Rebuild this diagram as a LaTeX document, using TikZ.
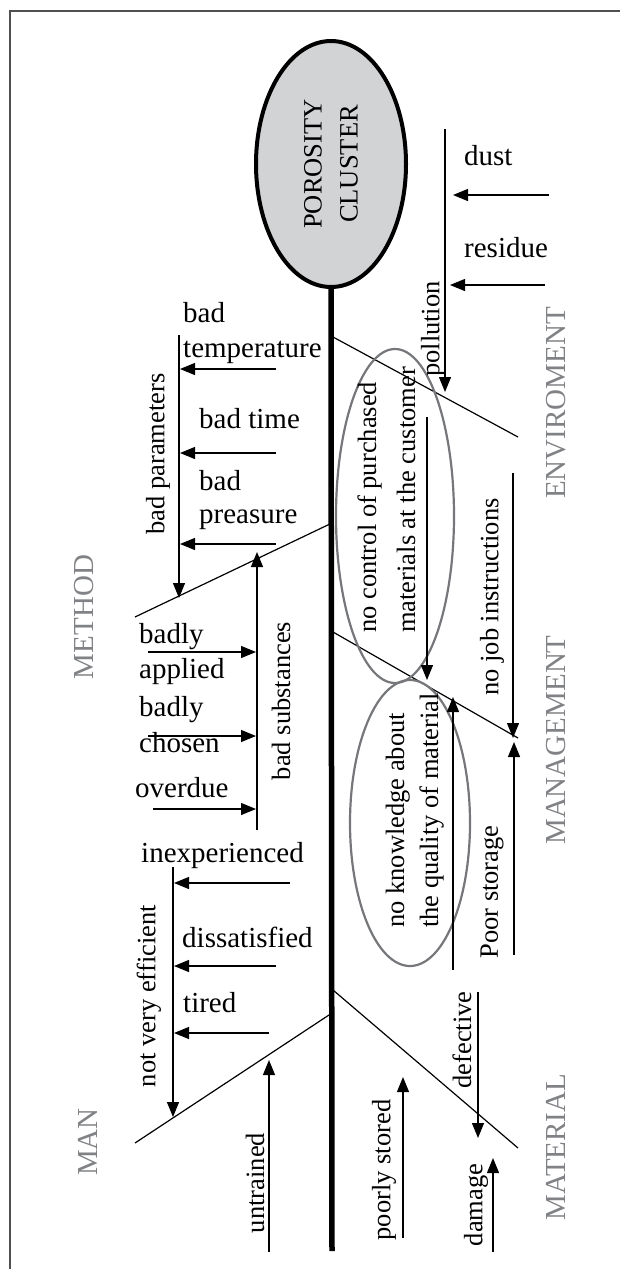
\documentclass[tikz,border=0pt]{standalone}
\usepackage{fontspec}
\setmainfont{Liberation Serif}
\usetikzlibrary{arrows.meta,shapes.geometric}
\definecolor{catgray}{RGB}{128,130,133}
\definecolor{ellgray}{RGB}{118,119,122}
\definecolor{fillgray}{RGB}{209,211,212}
\definecolor{framegray}{RGB}{80,80,80}
\begin{document}
\begin{tikzpicture}[x=1pt,y=-1pt,
  hlbl/.style={inner sep=0pt, font=\fontsize{29}{33}\selectfont, anchor=base west},
  rlbl/.style={inner sep=0pt, font=\fontsize{26.5}{31}\selectfont, rotate=90},
  cat/.style={inner sep=0pt, font=\fontsize{29}{33}\selectfont, rotate=90, text=catgray},
  bone/.style={line width=1.2pt},
  arr/.style={line width=1.2pt, -{Triangle[length=15pt,width=12pt]}},
  grayell/.style={ellipse, draw=ellgray, line width=2.2pt, rotate=90, inner sep=0pt}
]
\useasboundingbox (0,0) rectangle (619,1269);
% frame
\coordinate (fa) at (10,1280);
\coordinate (fb) at (10,11);
\coordinate (fc) at (630,11);
\draw[framegray, line width=1.5pt] (fa) -- (fb) -- (fc);

% head
\node[ellipse, draw, line width=4pt, fill=fillgray, rotate=90, inner sep=0pt,
      minimum width=246pt, minimum height=150pt, align=center,
      font=\fontsize{26.5}{36}\selectfont] (poro) at (331,164) {POROSITY\\CLUSTER};
\coordinate (spineend) at (332,1251);
\draw[line width=5.5pt] (poro.west) -- (spineend);

% bones
\coordinate (envA) at (333,337);  \coordinate (envB) at (518,437);
\coordinate (metA) at (332,523);  \coordinate (metB) at (135,617);
\coordinate (mgtA) at (333,632);  \coordinate (mgtB) at (518,738);
\coordinate (manA) at (332,1013); \coordinate (manB) at (135,1143);
\coordinate (matA) at (333,990);  \coordinate (matB) at (518,1148);
\draw[bone] (envA) -- (envB);
\draw[bone] (metA) -- (metB);
\draw[bone] (mgtA) -- (mgtB);
\draw[bone] (manA) -- (manB);
\draw[bone] (matA) -- (matB);

% category labels
\node[cat] (lmethod) at (84,617) {METHOD};
\node[cat] (lenv) at (556,403) {ENVIROMENT};
\node[cat] (lmgt) at (556,740) {MANAGEMENT};
\node[cat] (lman) at (88,1142) {MAN};
\node[cat] (lmat) at (556,1147) {MATERIAL};

% gray ellipses
\node[grayell, minimum width=334pt, minimum height=118pt] (e1) at (395,516) {};
\node[grayell, minimum width=286pt, minimum height=120pt] (e2) at (410,823) {};
\node[rlbl, anchor=base west] (t1a) at (376,633) {no control of purchased};
\node[rlbl, anchor=base west] (t1b) at (415,633) {materials at the customer};
\node[rlbl, anchor=base west] (t2a) at (404,928) {no knowledge about};
\node[rlbl, anchor=base west] (t2b) at (438,928) {the quality of material};

% ENVIROMENT
\node[hlbl] (dust) at (464,165) {dust};
\node[hlbl] (residue) at (464,257) {residue};
\node[rlbl] (pollution) at (433,329) {pollution};
\coordinate (polA) at (445,129); \coordinate (polB) at (445,392);
\coordinate (dusA) at (549,195); \coordinate (dusB) at (453,195);
\coordinate (resA) at (545,285); \coordinate (resB) at (450,285);
\draw[arr] (polA) -- (polB);
\draw[arr] (dusA) -- (dusB);
\draw[arr] (resA) -- (resB);

% METHOD
\node[hlbl] (bad1) at (183,322) {bad};
\node[hlbl] (temp) at (183,357) {temperature};
\node[hlbl] (badtime) at (199,428) {bad time};
\node[hlbl] (bad2) at (199,490) {bad};
\node[hlbl] (preas) at (199,523) {preasure};
\node[rlbl] (badpar) at (158,454) {bad parameters};
\coordinate (bpA) at (179,335); \coordinate (bpB) at (179,598);
\coordinate (tmA) at (276,369); \coordinate (tmB) at (180,369);
\coordinate (btA) at (276,453); \coordinate (btB) at (180,453);
\coordinate (prA) at (276,544); \coordinate (prB) at (180,544);
\draw[arr] (bpA) -- (bpB);
\draw[arr] (tmA) -- (tmB);
\draw[arr] (btA) -- (btB);
\draw[arr] (prA) -- (prB);

\node[hlbl] (badly1) at (139,643) {badly};
\node[hlbl] (applied) at (139,678) {applied};
\node[hlbl] (badly2) at (139,716) {badly};
\node[hlbl] (chosen) at (139,752) {chosen};
\node[hlbl] (overdue) at (135,797) {overdue};
\node[rlbl] (badsub) at (281,701) {bad substances};
\coordinate (bsA) at (257,830); \coordinate (bsB) at (257,552);
\coordinate (baA) at (148,652); \coordinate (baB) at (256,652);
\coordinate (bcA) at (148,736); \coordinate (bcB) at (256,736);
\coordinate (odA) at (153,809); \coordinate (odB) at (256,809);
\draw[arr] (bsA) -- (bsB);
\draw[arr] (baA) -- (baB);
\draw[arr] (bcA) -- (bcB);
\draw[arr] (odA) -- (odB);

% MAN
\node[hlbl] (inexp) at (141,862) {inexperienced};
\node[hlbl] (dissat) at (182,947) {dissatisfied};
\node[hlbl] (tired) at (183,1012) {tired};
\node[rlbl] (notvery) at (149,996) {not very efficient};
\node[rlbl] (untrained) at (255,1183) {untrained};
\coordinate (nvA) at (173,867); \coordinate (nvB) at (173,1117);
\coordinate (inA) at (290,883); \coordinate (inB) at (174,883);
\coordinate (dsA) at (276,966); \coordinate (dsB) at (174,966);
\coordinate (tiA) at (269,1033); \coordinate (tiB) at (174,1033);
\coordinate (unA) at (269,1252); \coordinate (unB) at (269,1060);
\draw[arr] (nvA) -- (nvB);
\draw[arr] (inA) -- (inB);
\draw[arr] (dsA) -- (dsB);
\draw[arr] (tiA) -- (tiB);
\draw[arr] (unA) -- (unB);

% MANAGEMENT
\node[rlbl] (nojob) at (492,597) {no job instructions};
\node[rlbl] (poor) at (492,892) {Poor storage};
\coordinate (m1A) at (427,417); \coordinate (m1B) at (427,680);
\coordinate (m2A) at (453,970); \coordinate (m2B) at (453,697);
\coordinate (njA) at (513,473); \coordinate (njB) at (513,738);
\coordinate (psA) at (514,955); \coordinate (psB) at (514,742);
\draw[arr] (m1A) -- (m1B);
\draw[arr] (m2A) -- (m2B);
\draw[arr] (njA) -- (njB);
\draw[arr] (psA) -- (psB);

% MATERIAL
\node[rlbl] (defective) at (462,1040) {defective};
\node[rlbl] (poorly) at (384,1170) {poorly stored};
\node[rlbl] (damage) at (476,1205) {damage};
\coordinate (dfA) at (478,992); \coordinate (dfB) at (478,1138);
\coordinate (plA) at (403,1238); \coordinate (plB) at (403,1077);
\coordinate (dmA) at (493,1252); \coordinate (dmB) at (493,1158);
\draw[arr] (dfA) -- (dfB);
\draw[arr] (plA) -- (plB);
\draw[arr] (dmA) -- (dmB);
\end{tikzpicture}
\end{document}
